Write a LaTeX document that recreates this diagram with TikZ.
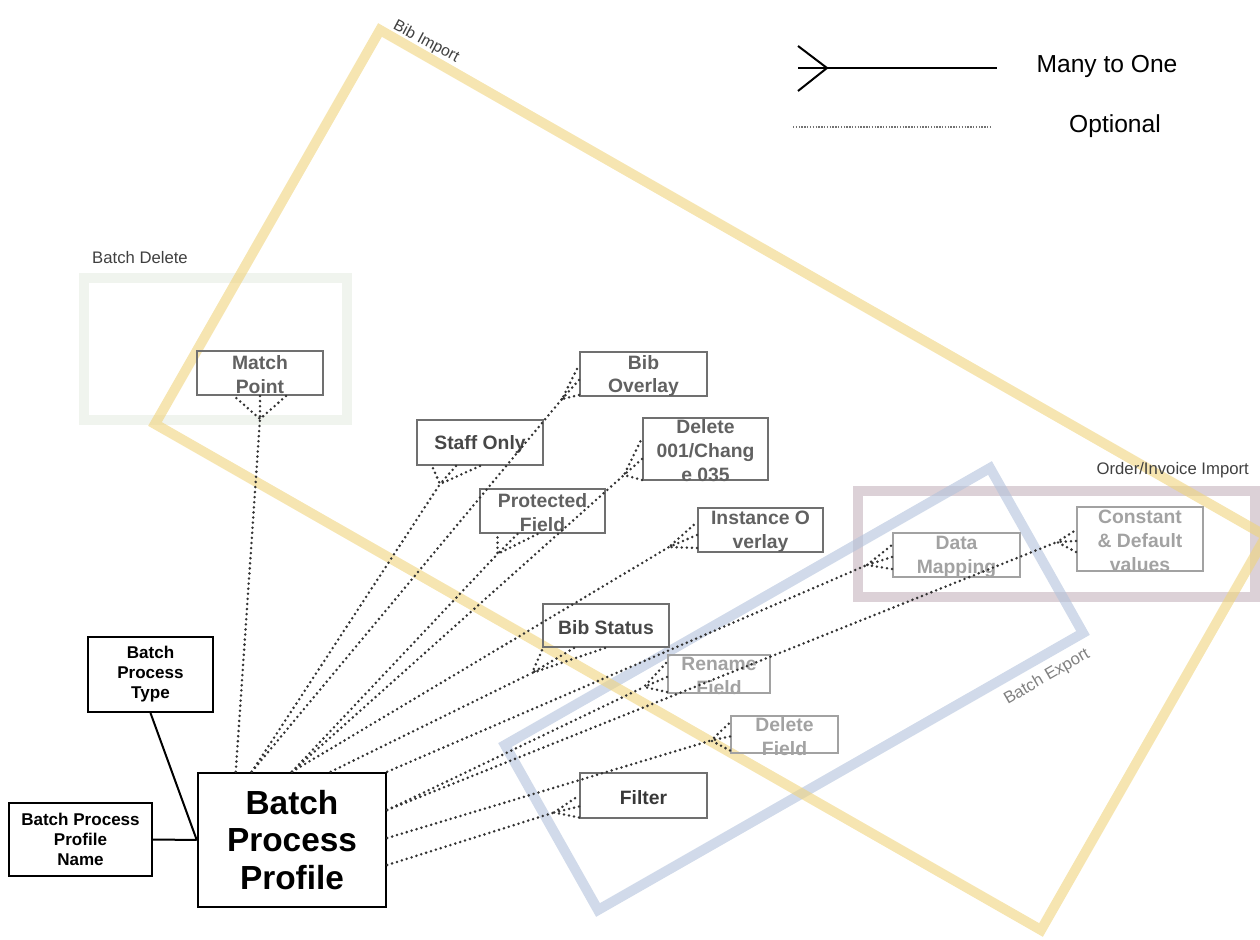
\documentclass[tikz,border=0pt]{standalone}
\usepackage{fontspec}
\setmainfont{Liberation Sans}
\usetikzlibrary{calc}
\newlength{\upx}
\setlength{\upx}{0.2mm}

\definecolor{bibimport}{RGB}{240,212,125}
\definecolor{batchdelete}{RGB}{230,236,226}
\definecolor{batchexport}{RGB}{178,194,220}
\definecolor{orderimport}{RGB}{196,178,188}
\definecolor{satgray}{RGB}{112,112,112}
\definecolor{fadegray}{RGB}{162,162,162}

\tikzset{
    groupframe/.style={line width=10\upx, line join=miter, draw opacity=0.6},
    grouplabel/.style={font=\fontsize{9.5}{11}\selectfont, text=black!75},
    mainbox/.style={draw, line width=2.5\upx, inner sep=0pt, align=center},
    satbox/.style={draw=satgray, line width=2\upx, minimum width=126\upx, minimum height=44\upx, inner sep=0pt},
    fadebox/.style={satbox, draw=fadegray},
    satlabel/.style={align=center, inner sep=0pt, yshift=-0.4mm, text=black!62, font=\fontsize{11}{13.6}\selectfont\bfseries},
    fadelabel/.style={satlabel, text=fadegray},
    solidline/.style={line width=2\upx},
    optline/.style={line width=1.6pt, line cap=round, dash pattern=on 0pt off 2.9pt, black!80},
    legendtext/.style={font=\fontsize{14}{16}\selectfont}
}

% crow's foot: name, edge point, half spread, foot offset
\newcommand{\crowfoot}[4]{%
    \coordinate (#1e) at (#2);
    \coordinate (#1f) at ($(#1e)+(#4)$);
    \draw[optline] ($(#1e)+(#3)$) -- (#1f) -- ($(#1e)-(#3)$) (#1e) -- (#1f);
}

\begin{document}
\begin{tikzpicture}[x=0.2mm, y=-0.2mm]
    \useasboundingbox (0,0) rectangle (1260,940);

    % group frames
    \draw[groupframe, batchdelete] (84,278) rectangle (347,420);
    \draw[groupframe, orderimport] (858,491) rectangle (1255,597);
    \draw[groupframe, batchexport] (990,468) -- (1083,633) -- (598,910) -- (505,745) -- cycle;
    \draw[groupframe, bibimport] (380,30) -- (1266,536) -- (1041,930) -- (155,424) -- cycle;

    \node[grouplabel, rotate=-28, font=\fontsize{9}{10}\selectfont] (lbibimp) at (426,42) {Bib Import};
    \node[grouplabel, anchor=west] (lbatchdel) at (86,258) {Batch Delete};
    \node[grouplabel, anchor=east] (lorderinv) at (1255,470) {Order/Invoice Import};
    \node[grouplabel, rotate=30, text=black!50] (lbatchexp) at (1047,677) {Batch Export};

    % legend
    \coordinate (mtoa) at (798,68);
    \coordinate (mtob) at (997,68);
    \draw[solidline] (mtoa) -- (mtob);
    \draw[solidline] ($(mtoa)+(0,-22)$) -- ($(mtoa)+(29,0)$) -- ($(mtoa)+(0,23)$);
    \node[legendtext] (lmany) at (1107,66) {Many to One};
    \coordinate (opta) at (793,127);
    \coordinate (optb) at (991,127);
    \draw[line width=0.8pt, dash pattern=on 0.8pt off 0.8pt, black!55] (opta) -- (optb);
    \node[legendtext] (lopt) at (1115,126) {Optional};

    % profile and its attributes
    \node[mainbox, minimum width=188\upx, minimum height=134\upx, font=\fontsize{19}{21.3}\selectfont\bfseries] (bpp) at (292,840) {Batch\\Process\\Profile};
    \node[mainbox, line width=2\upx, minimum width=125\upx, minimum height=75\upx, font=\fontsize{9.7}{11.4}\selectfont\bfseries] (bpt) at (150.5,674.5) {Batch\\Process\\Type};
    \node[mainbox, line width=2\upx, minimum width=143\upx, minimum height=73\upx, font=\fontsize{9.7}{11.4}\selectfont\bfseries] (bppn) at (80.5,839.5) {Batch Process\\Profile\\Name};

    \draw[solidline] (bpt.south) -- (bpp.west);
    \draw[solidline] (bppn.east) -- (bpp.west);

    % optional settings
    \node[satbox, label={[satlabel]center:Match\\Point}] (mp) at (260,373) {};
    \node[satbox, minimum width=127\upx, label={[satlabel]center:Bib\\Overlay}] (bo) at (643.5,374) {};
    \node[satbox, minimum height=45\upx, label={[satlabel, text=black!72]center:Staff Only}] (so) at (480,442.5) {};
    \node[satbox, minimum width=125\upx, label={[satlabel]center:Protected\\Field}] (pf) at (542.5,511) {};
    \node[satbox, minimum width=125\upx, minimum height=62\upx, label={[satlabel]center:Delete\\001/Chang\\e 035}] (dc) at (705.5,449) {};
    \node[satbox, minimum width=125\upx, label={[satlabel]center:Instance O\\verlay}] (io) at (760.5,530) {};
    \node[satbox, minimum height=43\upx, label={[satlabel, text=black!72]center:Bib Status}] (bs) at (606,625.5) {};
    \node[fadebox, minimum width=102\upx, minimum height=38\upx, label={[fadelabel]center:Rename\\Field}] (rf) at (719,674) {};
    \node[fadebox, minimum width=107\upx, minimum height=37\upx, label={[fadelabel]center:Delete\\Field}] (df) at (784.5,734.5) {};
    \node[satbox, minimum width=127\upx, minimum height=45\upx, label={[satlabel, text=black!78]center:Filter}] (fi) at (643.5,795.5) {};
    \node[fadebox, minimum width=127\upx, label={[fadelabel]center:Data\\Mapping}] (dm) at (956.5,555) {};
    \node[fadebox, minimum height=64\upx, label={[fadelabel]center:Constant\\\& Default\\values}] (cd) at (1140,539) {};

    \crowfoot{mp}{mp.south}{26,0}{0,23}
    \crowfoot{bo}{$(bo.west)+(0,6)$}{0,15}{-17,19}
    \crowfoot{so}{$(so.south)+(-24,0)$}{24,0}{-16,18}
    \crowfoot{pf}{$(pf.south)+(-25,0)$}{20,0}{-20,20}
    \crowfoot{dc}{$(dc.west)+(0,10)$}{0,21}{-18,16}
    \crowfoot{io}{$(io.west)+(0,5)$}{0,13}{-28,12}
    \crowfoot{bs}{$(bs.south)+(-32,0)$}{31,0}{-42,25}
    \crowfoot{rf}{$(rf.west)+(0,3)$}{0,15}{-23,10}
    \crowfoot{df}{$(df.west)+(0,2)$}{0,14}{-19,4}
    \crowfoot{fi}{$(fi.west)+(0,11)$}{0,11}{-25,6}
    \crowfoot{dm}{$(dm.west)+(0,2)$}{0,12}{-25,8}
    \crowfoot{cd}{$(cd.west)+(0,2)$}{0,11}{-19,1}

    \draw[optline] ($(bpp.north west)+(39,0)$) -- (mpf);
    \draw[optline] ($(bpp.north west)+(55,0)$) -- (bof);
    \draw[optline] ($(bpp.north west)+(55,0)$) -- (sof);
    \draw[optline] (bpp.north) -- (pff);
    \draw[optline] (bpp.north) -- (dcf);
    \draw[optline] (bpp.north) -- (iof);
    \draw[optline] ($(bpp.north west)+(134,0)$) -- (bsf);
    \draw[optline] (bpp.north east) -- (dmf);
    \draw[optline] ($(bpp.east)+(0,-30)$) -- (rff);
    \draw[optline] ($(bpp.east)+(0,-30)$) -- (cdf);
    \draw[optline] ($(bpp.east)+(0,-2)$) -- (dff);
    \draw[optline] ($(bpp.east)+(0,25)$) -- (fif);
\end{tikzpicture}
\end{document}
